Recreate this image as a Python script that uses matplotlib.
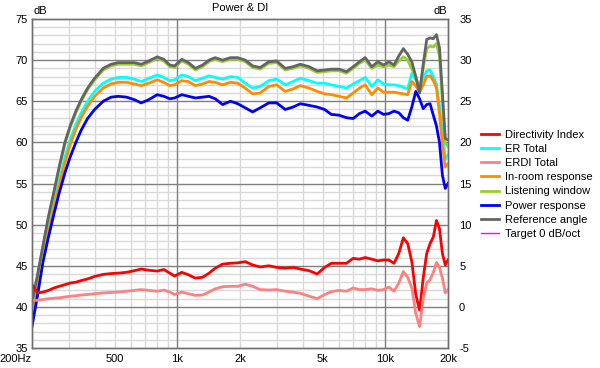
import matplotlib
matplotlib.use("Agg")
import matplotlib.pyplot as plt
import numpy as np

plt.rcParams['font.family'] = ['Liberation Sans', 'DejaVu Sans']
plt.rcParams['axes.unicode_minus'] = False

# frequency grid (Hz)
freq = [200, 213, 226, 240, 255, 270, 288, 305, 325, 345,
        370, 400, 440, 480, 520, 570, 620, 670, 730, 800,
        860, 920, 970, 1050, 1130, 1220, 1320, 1420, 1520, 1650,
        1800, 1950, 2120, 2300, 2500, 2750, 3000, 3300, 3600, 3900,
        4300, 4700, 5100, 5500, 6000, 6500, 7000, 7500, 8000, 8600,
        9200, 9800, 10400, 11000, 11600, 12200, 12800, 13400, 14000, 14600,
        15200, 15800, 16400, 17000, 17600, 18200, 18800, 19400, 20000]

# left axis (dB)
reference_angle = [40.5, 44.0, 47.5, 51.0, 54.0, 57.0, 60.0, 62.0, 63.8, 65.2,
                   66.6, 67.8, 69.0, 69.5, 69.7, 69.7, 69.7, 69.5, 69.9, 70.4,
                   70.1, 69.4, 69.3, 70.1, 69.7, 69.0, 69.4, 70.0, 70.3, 70.0,
                   70.3, 70.3, 70.0, 69.3, 69.1, 69.8, 69.9, 69.0, 69.2, 69.5,
                   69.2, 68.7, 68.8, 68.9, 68.9, 68.6, 69.2, 69.8, 70.3, 69.2,
                   69.8, 69.4, 69.8, 69.4, 70.5, 71.4, 70.7, 69.8, 68.0, 66.0,
                   69.5, 72.5, 72.7, 72.6, 73.1, 71.5, 66.0, 60.5, 60.3]
listening_window = [40.3, 43.8, 47.3, 50.8, 53.8, 56.8, 59.8, 61.8, 63.6, 65.0,
                    66.4, 67.6, 68.8, 69.3, 69.5, 69.5, 69.5, 69.3, 69.7, 70.2,
                    69.9, 69.2, 69.1, 69.9, 69.5, 68.8, 69.2, 69.8, 70.1, 69.8,
                    70.1, 70.1, 69.8, 69.1, 68.9, 69.6, 69.7, 68.8, 69.0, 69.3,
                    69.0, 68.5, 68.6, 68.7, 68.7, 68.4, 69.0, 69.6, 70.0, 69.0,
                    69.4, 69.2, 69.4, 69.2, 69.9, 70.4, 70.0, 68.9, 68.0, 66.4,
                    69.0, 71.4, 71.7, 71.6, 72.0, 70.5, 65.0, 60.0, 59.5]
er_total = [39.5, 43.0, 46.3, 49.5, 52.5, 55.3, 58.2, 60.3, 62.2, 63.6,
            65.0, 66.2, 67.2, 67.7, 67.9, 67.9, 67.7, 67.4, 67.8, 68.2,
            67.9, 67.5, 67.6, 68.2, 68.0, 67.5, 67.8, 68.1, 67.9, 67.7,
            68.0, 67.9, 67.2, 66.6, 66.8, 67.5, 67.7, 67.0, 67.4, 67.8,
            67.5, 67.2, 67.2, 67.0, 66.8, 66.6, 67.1, 67.5, 67.9, 66.8,
            67.6, 67.1, 67.0, 67.0, 66.9, 66.7, 66.5, 68.4, 67.6, 66.9,
            67.8, 68.7, 68.8, 68.0, 67.0, 64.5, 61.0, 58.0, 58.5]
in_room = [39.0, 42.5, 45.8, 49.0, 52.0, 54.7, 57.5, 59.7, 61.6, 63.0,
           64.4, 65.6, 66.6, 67.1, 67.3, 67.3, 67.1, 66.9, 67.2, 67.6,
           67.3, 66.9, 67.0, 67.5, 67.4, 66.9, 67.1, 67.4, 67.3, 67.0,
           67.3, 67.2, 66.6, 65.9, 66.0, 66.8, 67.0, 66.2, 66.5, 66.9,
           66.6, 66.2, 65.9, 65.8, 65.6, 65.4, 66.0, 66.6, 67.0, 65.8,
           66.6, 66.1, 66.1, 66.1, 66.0, 65.9, 65.8, 67.4, 66.9, 66.1,
           67.0, 68.0, 68.1, 67.5, 66.6, 63.5, 59.8, 57.0, 57.4]
power_response = [37.6, 41.5, 45.5, 48.5, 51.3, 53.8, 56.3, 58.2, 60.0, 61.5,
                  62.9, 64.0, 65.0, 65.5, 65.6, 65.5, 65.2, 64.8, 65.2, 65.8,
                  65.6, 65.3, 65.4, 65.8, 65.6, 65.4, 65.5, 65.6, 65.3, 64.6,
                  65.0, 64.7, 64.2, 63.7, 64.2, 64.8, 64.8, 64.0, 64.3, 64.7,
                  64.5, 64.3, 64.0, 63.4, 63.3, 63.0, 62.9, 63.5, 63.8, 63.2,
                  63.8, 63.4, 63.5, 63.8, 63.6, 63.0, 62.7, 64.3, 66.2, 65.3,
                  64.1, 64.6, 64.7, 63.3, 62.0, 60.0, 56.0, 54.4, 55.0]

# right axis (dB)
directivity_index = [2.7, 1.7, 1.8, 2.0, 2.3, 2.5, 2.7, 2.9, 3.0, 3.2,
                     3.4, 3.7, 3.95, 4.05, 4.1, 4.2, 4.4, 4.6, 4.45, 4.35,
                     4.55, 4.1, 3.75, 4.2, 3.9, 3.5, 3.6, 4.1, 4.7, 5.2,
                     5.3, 5.35, 5.5, 5.1, 4.85, 5.0, 4.8, 4.7, 4.8, 4.6,
                     4.4, 4.0, 4.8, 5.3, 5.3, 5.3, 5.9, 5.8, 6.0, 5.8,
                     5.6, 5.7, 5.7, 5.3, 6.5, 8.4, 7.7, 5.5, 1.5, -0.4,
                     3.5, 6.5, 7.7, 8.5, 10.5, 9.5, 6.5, 5.1, 5.7]
erdi_total = [0.8, 0.8, 0.9, 1.0, 1.05, 1.1, 1.2, 1.3, 1.35, 1.45,
              1.5, 1.6, 1.7, 1.75, 1.8, 1.9, 2.0, 2.1, 2.0, 1.9,
              2.05, 1.8, 1.5, 1.8, 1.6, 1.4, 1.45, 1.8, 2.2, 2.45,
              2.5, 2.5, 2.75, 2.5, 2.1, 2.05, 2.1, 1.9, 1.8, 1.65,
              1.3, 1.0, 1.5, 1.85, 2.0, 1.9, 2.3, 2.1, 2.1, 2.2,
              2.0, 2.1, 2.4, 1.9, 2.9, 4.3, 3.6, 2.3, -0.8, -2.4,
              1.0, 2.9, 3.3, 4.2, 5.4, 4.8, 3.5, 1.7, 2.1]

tick_freqs = [200, 500, 1000, 2000, 5000, 10000, 20000]
tick_labels = ["200Hz", "500", "1k", "2k", "5k", "10k", "20k"]

fig = plt.figure(figsize=(6, 3.68), dpi=100)
ax = fig.add_axes([32 / 600, 20 / 368, 416 / 600, 329 / 368])
ax2 = ax.twinx()

# grid
minor_x = [300, 400, 500, 600, 700, 800, 900, 2000, 3000, 4000, 5000, 6000, 7000, 8000, 9000]
for f in minor_x:
    ax.axvline(f, color='#d9d9d9', lw=1, zorder=0)
for db in range(36, 75):
    if db % 5:
        ax.axhline(db, color='#d9d9d9', lw=1, zorder=0)
for f in [1000, 10000]:
    ax.axvline(f, color='#7f7f7f', lw=1, zorder=1)
for db in range(40, 75, 5):
    ax.axhline(db, color='#7f7f7f', lw=1, zorder=1)

lw = 2.0
l_di, = ax2.plot(freq, directivity_index, color='#ff0000', lw=lw)
l_er, = ax.plot(freq, er_total, color='#00ffff', lw=lw, zorder=3)
l_erdi, = ax2.plot(freq, erdi_total, color='#ff8080', lw=lw)
l_ir, = ax.plot(freq, in_room, color='#ff8c00', lw=lw, zorder=3)
l_lw, = ax.plot(freq, listening_window, color='#9acd32', lw=lw, zorder=4)
l_pr, = ax.plot(freq, power_response, color='#0000ff', lw=lw, zorder=3)
l_ref, = ax.plot(freq, reference_angle, color='#646464', lw=lw, zorder=5)
l_tgt, = ax.plot([], [], color='#ff00ff', lw=1)

ax.set_xscale('log')
ax.set_xlim(200, 20000)
ax.set_ylim(35, 75)
ax2.set_ylim(-5, 35)
ax.set_xticks(tick_freqs)
ax.set_xticklabels(tick_labels)
ax.xaxis.set_minor_locator(matplotlib.ticker.NullLocator())
ax.get_xticklabels()[0].set_ha('right')
ax.set_yticks(range(35, 80, 5))
ax2.set_yticks(range(-5, 40, 5))
ax.tick_params(axis='both', length=0, labelsize=8, pad=3)
ax.tick_params(axis='x', pad=4)
ax2.tick_params(axis='y', length=0, labelsize=8, pad=8)

for a in (ax, ax2):
    for s in a.spines.values():
        s.set_color('#707070')
        s.set_linewidth(1)

fig.text(240 / 600, 1 - 8 / 368, "Power & DI", ha='center', va='center', fontsize=8)
fig.text(34 / 600, 1 - 11 / 368, "dB", ha='left', va='center', fontsize=8)
fig.text(447 / 600, 1 - 11 / 368, "dB", ha='right', va='center', fontsize=8)

handles = [l_di, l_er, l_erdi, l_ir, l_lw, l_pr, l_ref, l_tgt]
labels = ["Directivity Index", "ER Total", "ERDI Total", "In-room response",
          "Listening window", "Power response", "Reference angle", "Target 0 dB/oct"]
fig.legend(handles, labels, loc='upper left', bbox_to_anchor=(481 / 600, 1 - 130 / 368),
           frameon=False, fontsize=8, handlelength=1.65, handletextpad=0.5,
           labelspacing=0.37, borderpad=0, borderaxespad=0)

fig.savefig("out.png", dpi=100, facecolor='white')
